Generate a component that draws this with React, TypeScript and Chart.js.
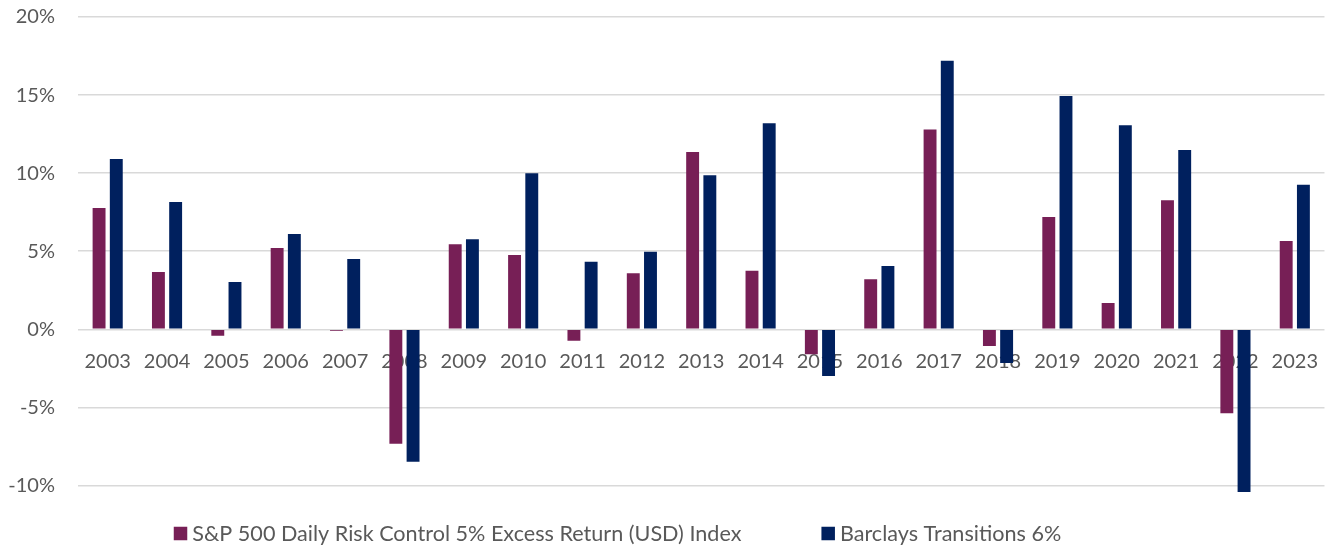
import React, { useEffect, useRef } from "react";
import { Chart, registerables } from "chart.js";

Chart.register(...registerables);

const years = [
  "2003", "2004", "2005", "2006", "2007", "2008", "2009", "2010", "2011", "2012", "2013",
  "2014", "2015", "2016", "2017", "2018", "2019", "2020", "2021", "2022", "2023",
];
const spRiskControl = [
  7.77, 3.67, -0.41, 5.2, -0.1, -7.34, 5.44, 4.76, -0.73, 3.58, 11.35,
  3.75, -1.6, 3.2, 12.8, -1.07, 7.19, 1.68, 8.26, -5.38, 5.65,
];
const barclays = [
  10.9, 8.15, 3.03, 6.1, 4.5, -8.48, 5.76, 9.99, 4.33, 4.97, 9.86,
  13.19, -2.99, 4.05, 17.2, -2.16, 14.94, 13.06, 11.48, -10.43, 9.26,
];
const yTicks = [-10, -5, 0, 5, 10, 15, 20];
const seriesLabels = [
  "S&P 500 Daily Risk Control 5% Excess Return (USD) Index",
  "Barclays Transitions 6%",
];

const FONT = "Lato";
const TEXT = "#595959";

const legendPlugin = {
  id: "customLegend",
  afterDraw(chart: any) {
    const ctx = chart.ctx as CanvasRenderingContext2D;
    ctx.save();
    ctx.font = `21.6px ${FONT}`;
    const box = 13.5;
    const textGap = 5;
    const itemGap = 80;
    const items = chart.data.datasets.map((ds: any) => ({
      label: ds.label,
      color: ds.backgroundColor,
      w: box + textGap + ctx.measureText(ds.label).width,
    }));
    const total =
      items.reduce((s: number, i: any) => s + i.w, 0) + itemGap * (items.length - 1);
    let x = 617.5 - total / 2;
    const y = 533.5;
    ctx.textBaseline = "middle";
    ctx.textAlign = "left";
    for (const it of items) {
      ctx.fillStyle = it.color;
      ctx.fillRect(x, y - box / 2, box, box);
      ctx.fillStyle = TEXT;
      ctx.fillText(it.label, x + box + textGap, y + 1);
      x += it.w + itemGap;
    }
    ctx.restore();
  },
};

export default function App() {
  const ref = useRef<HTMLCanvasElement | null>(null);

  useEffect(() => {
    if (!ref.current) return;
    const chart = new Chart(ref.current, {
      type: "bar",
      data: {
        labels: years,
        datasets: [
          {
            label: seriesLabels[0],
            data: spRiskControl,
            backgroundColor: "#771F56",
            borderWidth: 0,
            categoryPercentage: 0.58,
            barPercentage: 0.75,
          },
          {
            label: seriesLabels[1],
            data: barclays,
            backgroundColor: "#00205E",
            borderWidth: 0,
            categoryPercentage: 0.58,
            barPercentage: 0.75,
          },
        ],
      },
      options: {
        animation: false,
        responsive: false,
        maintainAspectRatio: false,
        layout: { padding: { top: 17, bottom: 45, left: 0, right: 0 } },
        plugins: {
          legend: { display: false },
          tooltip: { enabled: false },
        },
        scales: {
          x: {
            type: "category",
            position: { y: 0 } as any,
            grid: { display: false },
            border: { display: false },
            afterFit: (axis: any) => {
              axis.height = 0;
            },
            ticks: {
              font: { family: FONT, size: 20 },
              color: TEXT,
              padding: 12,
              maxRotation: 0,
              autoSkip: false,
            },
          },
          y: {
            min: -11,
            max: 20,
            ticks: {
              stepSize: 5,
              font: { family: FONT, size: 20 },
              color: TEXT,
              padding: 23,
              callback: (v: any) => `${v}%`,
            },
            afterBuildTicks: (axis: any) => {
              axis.ticks = yTicks.map((v) => ({ value: v }));
            },
            afterFit: (axis: any) => {
              axis.width = 78;
              axis.paddingTop = 0;
              axis.paddingBottom = 0;
            },
            grid: { color: "#D9D9D9", lineWidth: 1.5, drawTicks: false },
            border: { display: false },
          },
        },
      },
      plugins: [legendPlugin],
    });
    return () => chart.destroy();
  }, []);

  return (
    <div style={{ position: "fixed", left: 0, top: 0, width: 1330, height: 546, background: "#fff" }}>
      <canvas ref={ref} width={1330} height={546} style={{ width: 1330, height: 546 }} />
    </div>
  );
}
